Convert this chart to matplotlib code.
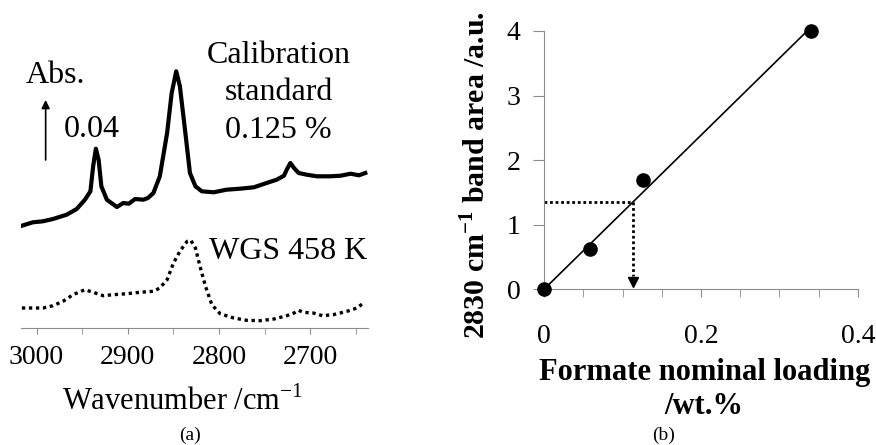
import numpy as np
import matplotlib.pyplot as plt

plt.rcParams['font.family'] = 'Liberation Serif'
plt.rcParams['mathtext.fontset'] = 'custom'
plt.rcParams['mathtext.rm'] = 'Liberation Serif'
plt.rcParams['mathtext.bf'] = 'Liberation Serif:bold'

# (a) DRIFT spectra: wavenumber /cm-1, absorbance in offset arbitrary units
calib_wn = [3016, 3004, 2993, 2982, 2967, 2956, 2947, 2941, 2938, 2935, 2932,
            2929, 2923, 2912, 2905, 2899, 2892, 2883, 2878, 2872, 2865, 2857,
            2852, 2847, 2843, 2837, 2832, 2826, 2819, 2806, 2792, 2777, 2762,
            2748, 2737, 2729, 2726, 2722, 2718, 2713, 2704, 2693, 2678, 2667,
            2656, 2647, 2640]
calib_abs = [102.3, 105.7, 106.7, 109.0, 113.3, 119.0, 128.3, 136.7, 161.7,
             179.3, 168.3, 141.7, 128.3, 121.0, 125.0, 124.3, 129.0, 128.3,
             130.0, 135.0, 151.7, 195.0, 235.0, 256.7, 241.7, 195.0, 155.0,
             141.7, 136.7, 135.7, 138.3, 139.3, 140.7, 145.0, 148.3, 152.3,
             158.3, 165.0, 160.0, 155.0, 153.3, 151.7, 151.7, 152.3, 154.3,
             152.7, 155.0]
wgs_wn = [3016, 3004, 2993, 2982, 2971, 2960, 2947, 2938, 2927, 2916, 2901,
          2887, 2872, 2865, 2857, 2850, 2843, 2835, 2831, 2826, 2821, 2815,
          2808, 2799, 2784, 2770, 2755, 2740, 2726, 2718, 2713, 2708, 2697,
          2687, 2675, 2660, 2649, 2642]
wgs_abs = [20.0, 20.0, 20.0, 22.3, 26.7, 33.3, 38.3, 35.7, 32.3, 33.3, 34.3,
           35.7, 36.7, 40.0, 48.3, 65.0, 76.7, 86.7, 87.7, 80.0, 61.7, 41.7,
           23.3, 14.3, 10.0, 7.7, 7.3, 9.0, 12.3, 15.0, 17.7, 15.7, 15.0,
           12.3, 13.3, 16.7, 20.0, 25.0]
scale_len = 60  # arb. units corresponding to 0.04 Abs

# (b) calibration: nominal loading /wt.% and 2830 cm-1 band area /a.u.
loading = np.array([0.0, 0.059, 0.1255, 0.34])
band_area = np.array([0.0, 0.62, 1.69, 4.0])
wgs_area = 1.35

W, H = 876, 445
fig = plt.figure(figsize=(W / 100, H / 100), dpi=100)
gray = '#8c8c8c'

# ---------------- panel (a) ----------------
ax1 = fig.add_axes([21 / W, (H - 328) / H, 347 / W, 328 / H])
ax1.plot(calib_wn, calib_abs, color='k', lw=3.0, solid_joinstyle='round')
ax1.plot(wgs_wn, wgs_abs, color='k', lw=2.4, linestyle=(0, (1, 1.1)))
ax1.set_xlim(3017, 2637)
ax1.set_ylim(0, 328)
for s in ['top', 'right', 'left']:
    ax1.spines[s].set_visible(False)
ax1.spines['bottom'].set_color(gray)
ax1.set_yticks([])
ax1.set_xticks([3000, 2900, 2800, 2700])
ax1.set_xticks([2950, 2850, 2750, 2650], minor=True)
ax1.tick_params(axis='x', which='both', length=4, color=gray, direction='out')
ax1.tick_params(axis='x', which='major', labelsize=20, pad=8)
ax1.set_xlabel('Wavenumber /cm$^{\\mathregular{-1}}$', fontsize=22)
ax1.xaxis.set_label_coords(0.465, -0.178)

ax1.annotate('', xy=(2990, 168 + scale_len), xytext=(2990, 168),
             arrowprops=dict(arrowstyle='-|>', lw=1.2, color='k',
                             mutation_scale=12, shrinkA=0, shrinkB=0))
fs = 23
ax1.text(2979, 245, 'Abs.', fontsize=fs, ha='center', va='baseline')
ax1.text(2940, 191, '0.04', fontsize=fs, ha='center', va='baseline')
ax1.text(2735, 265, 'Calibration', fontsize=fs, ha='center', va='baseline')
ax1.text(2735, 228, 'standard', fontsize=fs, ha='center', va='baseline')
ax1.text(2735, 190, '0.125 %', fontsize=fs, ha='center', va='baseline')
ax1.text(2724, 69, 'WGS 458 K', fontsize=fs, ha='center', va='baseline')
fig.text(190 / W, 1 - 440 / H, '(a)', fontsize=14, ha='center', va='baseline')

# ---------------- panel (b) ----------------
ax2 = fig.add_axes([544 / W, (H - 289.3) / H, 314 / W, 258.3 / H])
slope = np.sum(loading * band_area) / np.sum(loading * loading)
fit_x = np.array([0, loading.max()])
ax2.plot(fit_x, slope * fit_x, color='k', lw=1.2)
ax2.plot(loading, band_area, 'o', color='k', markersize=9.5, clip_on=False,
         zorder=5)

wgs_loading = wgs_area / slope
ax2.plot([0, wgs_loading], [wgs_area, wgs_area], color='k', lw=2,
         linestyle=(0, (1, 1)))
ax2.plot([wgs_loading, wgs_loading], [wgs_area, 0.2], color='k', lw=2,
         linestyle=(0, (1, 1)))
ax2.plot([wgs_loading], [0.12], marker='v', color='k', markersize=7)

ax2.set_xlim(0, 0.4)
ax2.set_ylim(0, 4)
for s in ['top', 'right']:
    ax2.spines[s].set_visible(False)
ax2.spines['bottom'].set_color(gray)
ax2.spines['left'].set_color(gray)
ax2.set_xticks([0, 0.2, 0.4])
ax2.set_xticklabels(['0', '0.2', '0.4'])
ax2.set_xticks(np.arange(0.05, 0.4, 0.05), minor=True)
ax2.set_yticks([0, 1, 2, 3, 4])
ax2.tick_params(axis='x', which='both', length=6, color=gray)
ax2.tick_params(axis='x', which='major', labelsize=20, pad=19)
ax2.tick_params(axis='y', length=8, color=gray, labelsize=20, pad=9)
ax2.set_ylabel('2830 cm$^{\\mathbf{-1}}$ band area /a.u.', fontsize=21.5,
               fontweight='bold', va='center')
ax2.yaxis.set_label_coords(-0.215, 0.4425)
ax2.set_xlabel('Formate nominal loading\n/wt.%', fontsize=22,
               fontweight='bold', linespacing=1.25)
ax2.xaxis.set_label_coords(0.51, -0.265)
fig.text(664 / W, 1 - 440 / H, '(b)', fontsize=14, ha='center', va='baseline')

fig.savefig('out.png', dpi=100)
